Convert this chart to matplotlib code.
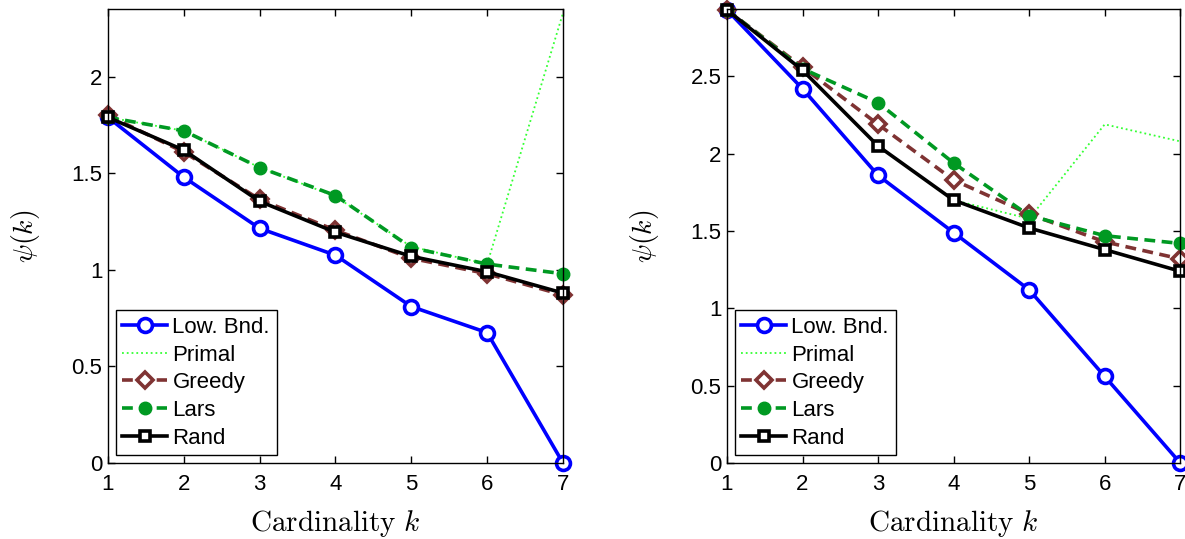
import numpy as np
import matplotlib
matplotlib.use("Agg")
import matplotlib.pyplot as plt
from matplotlib.ticker import FuncFormatter

plt.rcParams['font.family'] = ['Liberation Sans', 'DejaVu Sans']
plt.rcParams['mathtext.fontset'] = 'cm'

k = [1, 2, 3, 4, 5, 6, 7]

# left panel
low_l = [1.79, 1.48, 1.215, 1.076, 0.81, 0.675, 0.0]
primal_l = [1.79, 1.72, 1.53, 1.38, 1.12, 1.03, 2.33]
greedy_l = [1.80, 1.61, 1.365, 1.205, 1.06, 0.98, 0.87]
lars_l = [1.79, 1.72, 1.53, 1.385, 1.115, 1.03, 0.98]
rand_l = [1.79, 1.62, 1.355, 1.195, 1.07, 0.99, 0.88]

# right panel
low_r = [2.93, 2.42, 1.86, 1.49, 1.12, 0.56, 0.0]
primal_r = [2.93, 2.54, 2.05, 1.70, 1.58, 2.19, 2.08]
greedy_r = [2.93, 2.56, 2.19, 1.83, 1.61, 1.43, 1.32]
lars_r = [2.93, 2.55, 2.33, 1.94, 1.60, 1.47, 1.42]
rand_r = [2.93, 2.54, 2.05, 1.70, 1.52, 1.38, 1.24]

labels = ["Low. Bnd.", "Primal", "Greedy", "Lars", "Rand"]
ylims = [2.35, 2.935]
yticks_l = [0, 0.5, 1, 1.5, 2]
yticks_r = [0, 0.5, 1, 1.5, 2, 2.5]

fig = plt.figure(figsize=(11.85, 5.39), dpi=100)
ax1 = fig.add_axes([0.0911, 0.141, 0.384, 0.842])
ax2 = fig.add_axes([0.6135, 0.141, 0.3825, 0.842])

lw = 2.6
dash = (3.0, 1.8)
for ax, data, ytop, yt in [(ax1, (low_l, primal_l, greedy_l, lars_l, rand_l), ylims[0], yticks_l),
                           (ax2, (low_r, primal_r, greedy_r, lars_r, rand_r), ylims[1], yticks_r)]:
    low, primal, greedy, lars, rnd = data
    ax.plot(k, low, '-', color='#0000ff', lw=lw, marker='o', ms=10,
            mfc='white', mec='#0000ff', mew=2.6, label=labels[0], clip_on=False)
    ax.plot(k, primal, ':', color='#33ff33', lw=1.3, label=labels[1])
    ax.plot(k, greedy, '--', dashes=dash, color='#7f3333', lw=lw, marker='D', ms=8.5,
            mfc='white', mec='#7f3333', mew=2.6, label=labels[2], clip_on=False)
    ax.plot(k, lars, '--', dashes=dash, color='#009922', lw=lw, marker='o', ms=9,
            mfc='#009922', mec='#009922', label=labels[3], clip_on=False)
    ax.plot(k, rnd, '-', color='black', lw=lw, marker='s', ms=7.5,
            mfc='white', mec='black', mew=2.6, label=labels[4], clip_on=False)

    ax.set_xlim(1, 7)
    ax.set_ylim(0, ytop)
    ax.set_xticks(k)
    ax.set_yticks(yt)
    ax.yaxis.set_major_formatter(FuncFormatter(lambda v, p: "%g" % v))
    ax.tick_params(direction='in', top=True, right=True, labelsize=16,
                   length=5, width=1)
    ax.tick_params(axis='x', pad=8)
    ax.tick_params(axis='y', pad=4)
    for s in ax.spines.values():
        s.set_linewidth(1)
    ax.set_xlabel(r"$\mathrm{Cardinality}\ k$", fontsize=21, labelpad=9)
    ax.set_ylabel(r"$\psi(k)$", fontsize=20, labelpad=21)
    leg = ax.legend(loc='lower left', fontsize=16, handlelength=2.0,
                    labelspacing=0.3, borderpad=0.3, handletextpad=0.25,
                    borderaxespad=0.35, fancybox=False, framealpha=1,
                    edgecolor='black')
    leg.get_frame().set_linewidth(1)

fig.savefig("out.png", dpi=100)
